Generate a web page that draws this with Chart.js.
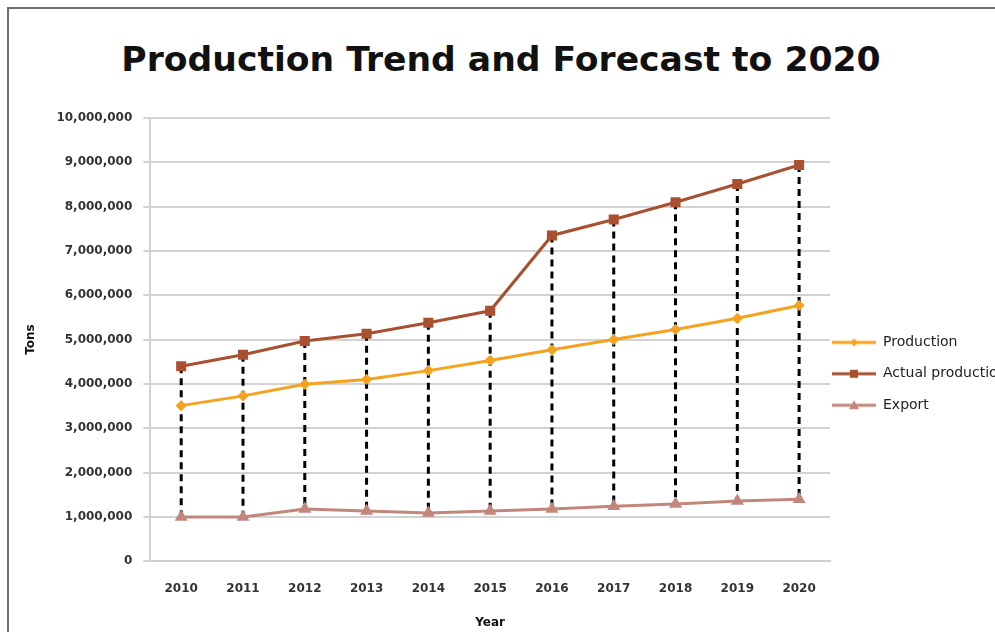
<!DOCTYPE html>
<html lang="en">
<head>
    <meta charset="UTF-8">
    <title>Production Trend and Forecast to 2020</title>
    <script src="https://cdn.jsdelivr.net/npm/chart.js"></script>
    <style>
        html, body {
            margin: 0;
            padding: 0;
            width: 995px;
            height: 632px;
            overflow: hidden;
            background: #fff;
            font-family: "DejaVu Sans", sans-serif;
        }
        #frame {
            position: absolute;
            left: 7px;
            top: 7px;
            width: 988px;
            height: 625px;
            border-left: 2px solid #6e6e6e;
            border-top: 2px solid #6e6e6e;
        }
        h1 {
            position: absolute;
            left: 0;
            top: 0;
            width: 1002px;
            margin: 0;
            line-height: 119px;
            text-align: center;
            font-size: 34.6px;
            font-weight: bold;
            color: #111;
        }
        #wrap {
            position: absolute;
            left: 0;
            top: 88px;
            width: 995px;
            height: 544px;
        }
    </style>
</head>
<body>
    <div id="frame"></div>
    <h1>Production Trend and Forecast to 2020</h1>
    <div id="wrap"><canvas id="lineChart"></canvas></div>

    <script>
        const years = ['2010', '2011', '2012', '2013', '2014', '2015', '2016', '2017', '2018', '2019', '2020'];
        const production = [3510000, 3730000, 3990000, 4100000, 4300000, 4530000, 4770000, 5000000, 5230000, 5480000, 5770000];
        const actualProduction = [4400000, 4660000, 4970000, 5130000, 5380000, 5650000, 7350000, 7710000, 8100000, 8510000, 8940000];
        const exportTons = [1000000, 1000000, 1180000, 1130000, 1090000, 1130000, 1180000, 1240000, 1290000, 1360000, 1400000];

        // legend icon: short line with the series marker in the middle
        function legendIcon(color, style) {
            const c = document.createElement('canvas');
            c.width = 44; c.height = 12;
            const g = c.getContext('2d');
            g.strokeStyle = color;
            g.fillStyle = color;
            g.lineWidth = 3;
            g.beginPath(); g.moveTo(0, 6); g.lineTo(44, 6); g.stroke();
            g.beginPath();
            if (style === 'rect') {
                g.fillRect(18, 2, 8, 8);
            } else if (style === 'triangle') {
                g.moveTo(22, 1); g.lineTo(27, 10); g.lineTo(17, 10); g.closePath(); g.fill();
            } else {
                g.moveTo(22, 2); g.lineTo(26, 6); g.lineTo(22, 10); g.lineTo(18, 6); g.closePath(); g.fill();
            }
            return c;
        }

        // dashed black drop lines between actual production and export
        const dropLines = {
            id: 'dropLines',
            beforeDatasetsDraw(chart) {
                const { ctx, scales: { x, y } } = chart;
                ctx.save();
                ctx.strokeStyle = '#000';
                ctx.lineWidth = 3;
                ctx.setLineDash([7, 5]);
                years.forEach((yr, i) => {
                    const px = x.getPixelForValue(i);
                    ctx.beginPath();
                    ctx.moveTo(px, y.getPixelForValue(actualProduction[i]));
                    ctx.lineTo(px, y.getPixelForValue(exportTons[i]));
                    ctx.stroke();
                });
                ctx.restore();
            }
        };

        const ctx = document.getElementById('lineChart').getContext('2d');
        new Chart(ctx, {
            type: 'line',
            data: {
                labels: years,
                datasets: [
                    {
                        label: 'Production',
                        data: production,
                        borderColor: '#F5A21E',
                        backgroundColor: '#F5A21E',
                        borderWidth: 3,
                        pointStyle: 'rectRot',
                        pointRadius: 3.5,
                        tension: 0
                    },
                    {
                        label: 'Actual production',
                        data: actualProduction,
                        borderColor: '#A8502F',
                        backgroundColor: '#A8502F',
                        borderWidth: 3,
                        pointStyle: 'rect',
                        pointRadius: 5,
                        tension: 0
                    },
                    {
                        label: 'Export',
                        data: exportTons,
                        borderColor: '#C2877C',
                        backgroundColor: '#C2877C',
                        borderWidth: 3,
                        pointStyle: 'triangle',
                        pointRadius: 4.5,
                        tension: 0
                    }
                ]
            },
            options: {
                responsive: true,
                maintainAspectRatio: false,
                animation: false,
                layout: { padding: { top: 30, left: 24, right: 0, bottom: 2 } },
                plugins: {
                    tooltip: { enabled: false },
                    legend: {
                        position: 'right',
                        align: 'start',
                        maxWidth: 165,
                        title: { display: true, text: '', padding: { top: 201, bottom: 0 } },
                        labels: {
                            usePointStyle: true,
                            pointStyleWidth: 44,
                            padding: 2,
                            color: '#222',
                            font: { family: 'DejaVu Sans', size: 14, lineHeight: 2.1 },
                            generateLabels(chart) {
                                const styles = ['rectRot', 'rect', 'triangle'];
                                return chart.data.datasets.map((ds, i) => ({
                                    text: [ds.label],
                                    pointStyle: legendIcon(ds.borderColor, styles[i]),
                                    fillStyle: ds.borderColor,
                                    strokeStyle: ds.borderColor,
                                    fontColor: '#222',
                                    lineWidth: 0,
                                    hidden: false,
                                    datasetIndex: i
                                }));
                            }
                        }
                    }
                },
                scales: {
                    x: {
                        offset: true,
                        grid: { display: false, drawTicks: false },
                        border: { color: '#cfcfcf', width: 2 },
                        ticks: {
                            padding: 20,
                            color: '#333',
                            font: { family: 'DejaVu Sans', size: 12, weight: 'bold' }
                        },
                        title: {
                            display: true,
                            text: 'Year',
                            color: '#111',
                            padding: { top: 0, bottom: 0 },
                            font: { family: 'DejaVu Sans', size: 12, weight: 'bold' }
                        }
                    },
                    y: {
                        min: 0,
                        max: 10000000,
                        ticks: {
                            stepSize: 1000000,
                            padding: 11,
                            color: '#333',
                            font: { family: 'DejaVu Sans', size: 12, weight: 'bold' },
                            callback: v => v.toLocaleString('en-US')
                        },
                        grid: { color: '#d2d2d2', lineWidth: 2, tickLength: 7 },
                        border: { color: '#d2d2d2', width: 2 },
                        title: {
                            display: true,
                            text: 'Tons',
                            color: '#111',
                            padding: { top: 0, bottom: 7 },
                            font: { family: 'DejaVu Sans', size: 12, weight: 'bold' }
                        }
                    }
                }
            },
            plugins: [dropLines]
        });
    </script>
</body>
</html>
